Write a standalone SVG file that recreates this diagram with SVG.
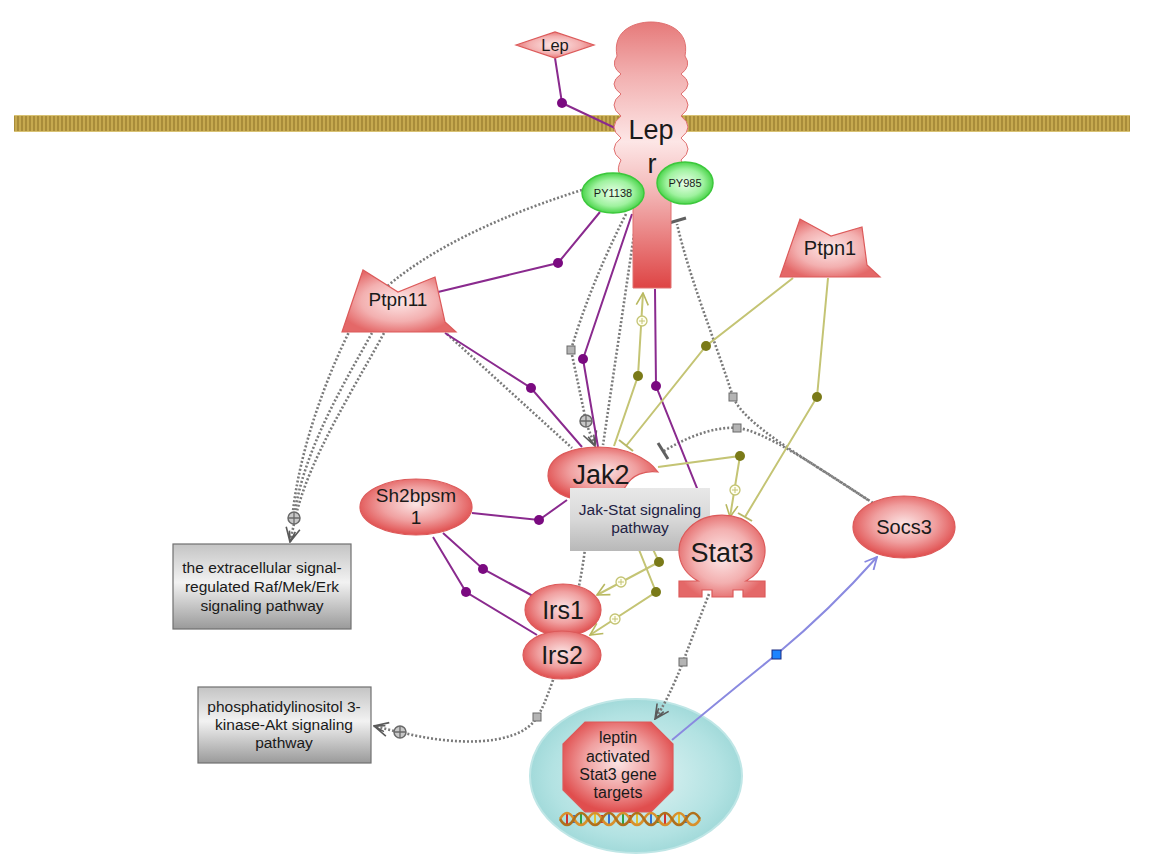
<svg xmlns="http://www.w3.org/2000/svg" width="1159" height="865" viewBox="0 0 1159 865">
<defs>
<style>
.lbl{font-family:"Liberation Sans",Arial,sans-serif;fill:#1a1a1a;text-anchor:middle}
.pur{fill:none;stroke:#8a2a8e;stroke-width:2}
.pdot{fill:#7a0a80}
.olv{fill:none;stroke:#c4c474;stroke-width:2}
.odot{fill:#7a7a18}
.dot{fill:none;stroke:#7a7a7a;stroke-width:2.6;stroke-dasharray:2 2}
.sq{fill:#b4b4b4;stroke:#6a6a6a;stroke-width:1}
.tbarg{stroke:#606060;stroke-width:3;fill:none}
.tbaro{stroke:#b8b868;stroke-width:2;fill:none}
.opl{fill:#fffff0;stroke:#c4c474;stroke-width:1.3}
.gpl{fill:#c8c8c8;stroke:#6a6a6a;stroke-width:1.5}
.node{stroke:#dc5a5a;stroke-width:1.2}
</style>
<radialGradient id="rg" cx="50%" cy="45%" r="55%">
<stop offset="0" stop-color="#fbe4e4"/><stop offset="0.55" stop-color="#f0a0a0"/><stop offset="1" stop-color="#e04e4e"/>
</radialGradient>
<radialGradient id="rgS" cx="50%" cy="50%" r="55%">
<stop offset="0" stop-color="#fde8e8"/><stop offset="0.6" stop-color="#f3b0b0"/><stop offset="1" stop-color="#e46868"/>
</radialGradient>
<radialGradient id="gg" cx="50%" cy="50%" r="55%">
<stop offset="0" stop-color="#eaffea"/><stop offset="0.6" stop-color="#9ff29f"/><stop offset="1" stop-color="#34cc34"/>
</radialGradient>
<linearGradient id="lg" x1="0" y1="22" x2="0" y2="288" gradientUnits="userSpaceOnUse">
<stop offset="0" stop-color="#e67a7a"/><stop offset="0.2" stop-color="#f2b0b0"/><stop offset="0.45" stop-color="#fde6e6"/><stop offset="0.62" stop-color="#f4bcbc"/><stop offset="1" stop-color="#de4444"/>
</linearGradient>
<linearGradient id="bx" x1="0" y1="0" x2="0" y2="1">
<stop offset="0" stop-color="#c4c4c4"/><stop offset="0.45" stop-color="#f2f2f2"/><stop offset="1" stop-color="#9a9a9a"/>
</linearGradient>
<linearGradient id="bx2" x1="0" y1="0" x2="0" y2="1">
<stop offset="0" stop-color="#e8e8e8"/><stop offset="0.5" stop-color="#d8d8d8"/><stop offset="1" stop-color="#b8b8b8"/>
</linearGradient>
<radialGradient id="nuc" cx="50%" cy="50%" r="50%">
<stop offset="0" stop-color="#e2f4f4"/><stop offset="0.8" stop-color="#b2e2e2"/><stop offset="1" stop-color="#a2dada"/>
</radialGradient>
<pattern id="mem" width="4" height="20" patternUnits="userSpaceOnUse">
<rect width="4" height="20" fill="#c6a94f"/><line x1="2" y1="0" x2="2" y2="20" stroke="#9c8030" stroke-width="1.4"/>
</pattern>
<marker id="aO" viewBox="0 0 14 14" refX="13" refY="7" markerWidth="14" markerHeight="14" markerUnits="userSpaceOnUse" orient="auto">
<path d="M1,1 L13,7 L1,13" fill="none" stroke="#b8b860" stroke-width="1.6"/>
</marker>
<marker id="aG" viewBox="0 0 16 16" refX="15" refY="8" markerWidth="16" markerHeight="16" markerUnits="userSpaceOnUse" orient="auto">
<path d="M1,1 L15,8 L1,15 M4,5 L15,8 L4,11" fill="none" stroke="#5a5a5a" stroke-width="1.6"/>
</marker>
<marker id="aB" viewBox="0 0 14 14" refX="13" refY="7" markerWidth="14" markerHeight="14" markerUnits="userSpaceOnUse" orient="auto">
<path d="M1,1 L13,7 L1,13" fill="none" stroke="#8888e0" stroke-width="1.8"/>
</marker>
</defs>
<rect width="1159" height="865" fill="#ffffff"/>

<g id="membrane">
<rect x="14" y="115" width="1116" height="17" fill="url(#mem)"/>
<line x1="14" y1="115.5" x2="1130" y2="115.5" stroke="#d8c274" stroke-width="1"/>
<line x1="14" y1="131.5" x2="1130" y2="131.5" stroke="#d8c274" stroke-width="1"/>
</g>

<g id="nucleus">
<ellipse cx="636" cy="776" rx="106" ry="77" fill="url(#nuc)" stroke="#bfe6e6" stroke-width="2"/>
</g>

<g id="connectors">
<path class="dot" d="M582,190 C470,225 380,275 350,330 C325,380 300,450 293,511"/>
<path class="dot" d="M372,333 C340,390 305,450 295,511"/>
<path class="dot" d="M384,333 C350,395 312,455 297,511"/>
<path class="dot" d="M294,524 L290,542" marker-end="url(#aG)"/>
<path class="dot" d="M447,334 L572,448"/>
<path class="dot" d="M626,214 Q590,285 571,350 L586,421"/>
<path class="dot" d="M588,428 L595,446" marker-end="url(#aG)"/>
<path class="dot" d="M637,214 Q620,330 603,445"/>
<path class="dot" d="M868,500 C800,455 745,425 733,397 C715,340 690,280 677,224"/>
<path class="tbarg" d="M669,223 L686,218"/>
<path class="dot" d="M873,503 C810,462 762,430 737,428 C712,426 682,440 664,451"/>
<path class="tbarg" d="M658,443 L668,459"/>
<path class="dot" d="M709,594 Q695,630 683,662 Q668,700 655,719" marker-end="url(#aG)"/>
<path class="dot" d="M586,540 C580,600 560,660 553,680 C546,700 541,712 536,719 C515,748 450,745 400,732"/>
<path class="dot" d="M394,731 L374,726" marker-end="url(#aG)"/>
<path class="pur" d="M555,58 L562,103 L615,128"/>
<path class="pur" d="M600,212 L558,263 L438,292"/>
<path class="pur" d="M445,333 L531,388 L582,447"/>
<path class="pur" d="M632,214 L583,359 L598,447"/>
<path class="pur" d="M655,289 L656,386 L709,518"/>
<path class="pur" d="M472,513 L539,520 L567,500"/>
<path class="pur" d="M443,533 L483,569 L533,596"/>
<path class="pur" d="M433,537 L466,592 L537,635"/>
<path class="olv" d="M614,446 L638,376 L643,293" marker-end="url(#aO)"/>
<path class="olv" d="M793,278 L706,346 L626,446"/>
<path class="tbaro" d="M619,440 L633,451"/>
<path class="olv" d="M828,278 L817,397 L745,517"/>
<path class="tbaro" d="M738,513 L752,521"/>
<path class="olv" d="M658,467 L740,456 L730,517" marker-end="url(#aO)"/>
<path class="olv" d="M628,496 L659,562 L597,595" marker-end="url(#aO)"/>
<path class="olv" d="M619,500 L656,592 L590,635" marker-end="url(#aO)"/>
<path d="M672,740 Q720,700 777,654 Q830,610 877,557" fill="none" stroke="#8a8ae0" stroke-width="2" marker-end="url(#aB)"/>
<circle class="pdot" cx="562" cy="103" r="5"/>
<circle class="pdot" cx="558" cy="263" r="5"/>
<circle class="pdot" cx="531" cy="388" r="5"/>
<circle class="pdot" cx="583" cy="359" r="5"/>
<circle class="pdot" cx="656" cy="386" r="5"/>
<circle class="pdot" cx="539" cy="520" r="5"/>
<circle class="pdot" cx="483" cy="569" r="5"/>
<circle class="pdot" cx="466" cy="592" r="5"/>
<circle class="odot" cx="638" cy="376" r="5"/>
<circle class="odot" cx="706" cy="346" r="5"/>
<circle class="odot" cx="817" cy="397" r="5"/>
<circle class="odot" cx="740" cy="456" r="5"/>
<circle class="odot" cx="659" cy="562" r="5"/>
<circle class="odot" cx="656" cy="592" r="5"/>
<rect class="sq" x="567" y="346" width="8" height="8"/>
<rect class="sq" x="729" y="393" width="8" height="8"/>
<rect class="sq" x="733" y="424" width="8" height="8"/>
<rect class="sq" x="679" y="658" width="8" height="8"/>
<rect class="sq" x="533" y="713" width="8" height="8"/>
<rect x="772" y="650" width="9" height="9" fill="#1e84ff" stroke="#1a2a80" stroke-width="1"/>
<g>
<circle class="gpl" cx="294" cy="518" r="6"/><path d="M288,518 H300 M294,512 V524" stroke="#6a6a6a" stroke-width="1.3"/>
<circle class="gpl" cx="586" cy="421" r="6"/><path d="M580,421 H592 M586,415 V427" stroke="#6a6a6a" stroke-width="1.3"/>
<circle class="gpl" cx="400" cy="732" r="6"/><path d="M394,732 H406 M400,726 V738" stroke="#6a6a6a" stroke-width="1.3"/>
</g>
<g>
<circle class="opl" cx="642" cy="321" r="5"/><path d="M639,321 H645 M642,318 V324" stroke="#c4c474" stroke-width="1"/>
<circle class="opl" cx="735" cy="490" r="5"/><path d="M732,490 H738 M735,487 V493" stroke="#c4c474" stroke-width="1"/>
<circle class="opl" cx="621" cy="582" r="5"/><path d="M618,582 H624 M621,579 V585" stroke="#c4c474" stroke-width="1"/>
<circle class="opl" cx="615" cy="619" r="5"/><path d="M612,619 H618 M615,616 V622" stroke="#c4c474" stroke-width="1"/>
</g>
</g>

<g id="Lep">
<path class="node" d="M516,45 L555,32 L594,45 L555,58 Z" fill="url(#rgS)"/>
<text class="lbl" x="555" y="51" font-size="16.5">Lep</text>
</g>

<g id="Lepr">
<path d="M633,288 V178 Q612,178 621,160 Q607,149 621,138 Q607,127 621,116 Q607,105 621,94 Q607,84 621,74 Q610,66 617,56 C612,30 635,22 651,22 C667,22 690,30 685,56 Q692,66 681,74 Q695,84 681,94 Q695,105 681,116 Q695,127 681,138 Q695,149 681,160 Q690,178 671,178 V288 Z" fill="url(#lg)" stroke="#e07070" stroke-width="1"/>
<text class="lbl" x="651" y="139" font-size="27">Lep</text>
<text class="lbl" x="652" y="173" font-size="27">r</text>
</g>

<g id="PY1138">
<ellipse cx="613" cy="193" rx="31" ry="20" fill="url(#gg)" stroke="#3cc83c" stroke-width="1.5"/>
<text class="lbl" x="613" y="197" font-size="11">PY1138</text>
</g>

<g id="PY985">
<ellipse cx="685" cy="183" rx="28" ry="21" fill="url(#gg)" stroke="#3cc83c" stroke-width="1.5"/>
<text class="lbl" x="685" y="187" font-size="11">PY985</text>
</g>

<g id="Ptpn11">
<path class="node" d="M342,332 L363,270 L398,292 L435,277 L445,322 L456,332 Z" fill="url(#rgS)"/>
<text class="lbl" x="398" y="306" font-size="19">Ptpn11</text>
</g>

<g id="Ptpn1">
<path class="node" d="M780,277 L800,219 L831,236 L862,227 L867,265 L880,277 Z" fill="url(#rgS)"/>
<text class="lbl" x="830" y="255" font-size="20">Ptpn1</text>
</g>

<g id="Jak2">
<path class="node" d="M548,476 C548,455 573,447 598,447 C625,447 648,458 658,472 C645,470 632,475 626,486 C620,496 610,501 592,501 C565,501 548,490 548,476 Z" fill="url(#rg)"/>
<text class="lbl" x="601" y="484" font-size="27">Jak2</text>
</g>

<g id="JakStat">
<rect x="570" y="488" width="140" height="63" fill="url(#bx2)"/>
<text class="lbl" x="640" y="515" font-size="15.5" style="fill:#222244">Jak-Stat signaling</text>
<text class="lbl" x="640" y="533" font-size="15.5" style="fill:#222244">pathway</text>
</g>

<g id="Stat3">
<path class="node" d="M679,597 V581 H698 A43 36 0 1 1 746,581 H765 V597 H743 V590 H733 V597 H712 V590 H702 V597 Z" fill="url(#rgS)"/>
<text class="lbl" x="722" y="562" font-size="27">Stat3</text>
</g>

<g id="Socs3">
<ellipse class="node" cx="904" cy="527" rx="51" ry="31" fill="url(#rg)"/>
<text class="lbl" x="904" y="534" font-size="20">Socs3</text>
</g>

<g id="Sh2bpsm1">
<ellipse class="node" cx="416" cy="507" rx="56" ry="28" fill="url(#rg)"/>
<text class="lbl" x="416" y="502" font-size="19">Sh2bpsm</text>
<text class="lbl" x="416" y="524" font-size="19">1</text>
</g>

<g id="Irs1">
<ellipse class="node" cx="563" cy="610" rx="38" ry="26" fill="url(#rg)"/>
<text class="lbl" x="563" y="619" font-size="25">Irs1</text>
</g>

<g id="Irs2">
<ellipse class="node" cx="562" cy="655" rx="39" ry="24" fill="url(#rg)"/>
<text class="lbl" x="562" y="664" font-size="25">Irs2</text>
</g>

<g id="ERK">
<rect x="173" y="544" width="178" height="85" fill="url(#bx)" stroke="#707070" stroke-width="1.2"/>
<text class="lbl" x="262" y="573" font-size="15.5">the extracellular signal-</text>
<text class="lbl" x="262" y="592" font-size="15.5">regulated Raf/Mek/Erk</text>
<text class="lbl" x="262" y="611" font-size="15.5">signaling pathway</text>
</g>

<g id="PI3K">
<rect x="198" y="687" width="173" height="76" fill="url(#bx)" stroke="#707070" stroke-width="1.2"/>
<text class="lbl" x="284" y="712" font-size="15.5">phosphatidylinositol 3-</text>
<text class="lbl" x="284" y="730" font-size="15.5">kinase-Akt signaling</text>
<text class="lbl" x="284" y="748" font-size="15.5">pathway</text>
</g>

<g id="StatTargets">
<path class="node" d="M585,722 L651,722 L673,744 L673,790 L651,812 L585,812 L563,790 L563,744 Z" fill="url(#rg)"/>
<text class="lbl" x="618" y="743" font-size="16">leptin</text>
<text class="lbl" x="618" y="762" font-size="16">activated</text>
<text class="lbl" x="618" y="780" font-size="16">Stat3 gene</text>
<text class="lbl" x="618" y="798" font-size="16">targets</text>
</g>

<g id="DNA">
<g stroke-width="2">
<line x1="567" y1="813" x2="567" y2="825" stroke="#d03030"/>
<line x1="574" y1="815" x2="574" y2="823" stroke="#3070d0"/>
<line x1="581" y1="813" x2="581" y2="825" stroke="#30a040"/>
<line x1="595" y1="813" x2="595" y2="825" stroke="#e0c030"/>
<line x1="602" y1="815" x2="602" y2="823" stroke="#d03030"/>
<line x1="609" y1="813" x2="609" y2="825" stroke="#3070d0"/>
<line x1="623" y1="813" x2="623" y2="825" stroke="#30a040"/>
<line x1="630" y1="815" x2="630" y2="823" stroke="#d03030"/>
<line x1="637" y1="813" x2="637" y2="825" stroke="#e0c030"/>
<line x1="651" y1="813" x2="651" y2="825" stroke="#3070d0"/>
<line x1="658" y1="815" x2="658" y2="823" stroke="#30a040"/>
<line x1="665" y1="813" x2="665" y2="825" stroke="#d03030"/>
<line x1="679" y1="813" x2="679" y2="825" stroke="#e0c030"/>
<line x1="686" y1="815" x2="686" y2="823" stroke="#3070d0"/>
</g>
<path d="M560,819 q7,-12 14,0 t14,0 t14,0 t14,0 t14,0 t14,0 t14,0 t14,0 t14,0 t14,0" fill="none" stroke="#d8902c" stroke-width="2.6"/>
<path d="M560,819 q7,12 14,0 t14,0 t14,0 t14,0 t14,0 t14,0 t14,0 t14,0 t14,0 t14,0" fill="none" stroke="#b0701c" stroke-width="2.6"/>
</g>
</svg>
